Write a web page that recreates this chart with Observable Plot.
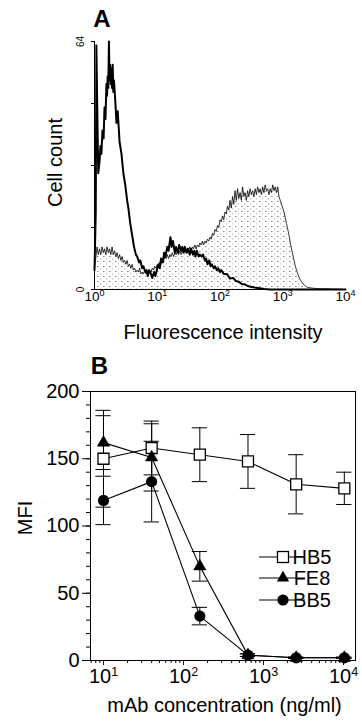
<!DOCTYPE html>
<html><head><meta charset="utf-8">
<script src="https://cdn.jsdelivr.net/npm/d3@7"></script>
<script src="https://cdn.jsdelivr.net/npm/@observablehq/plot@0.6"></script>
<style>
body{margin:0;background:#fff;}
#chart{width:362px;height:728px;position:relative;background:#fff;}
svg{display:block;}
</style></head><body><div id="chart"></div>
<script>
// ---------- Panel A data (log10 fluorescence channel, cell count) ----------
const isoLog = [0.00,0.02,0.03,0.05,0.06,0.08,0.095,0.11,0.127,0.145,0.16,0.175,0.19,0.20,0.21,0.22,0.23,0.24,0.25,0.26,0.27,0.28,0.29,0.30,0.31,0.33,0.35,0.37,0.40,0.43,0.46,0.49,0.52,0.54,0.57,0.60,0.63,0.66,0.68,0.71,0.73,0.76,0.78,0.81,0.83,0.85,0.87,0.90,0.92,0.95,0.97,1.00,1.02,1.04,1.06,1.09,1.11,1.13,1.16,1.18,1.21,1.23,1.25,1.28,1.30,1.33,1.35,1.38,1.40,1.42,1.44,1.47,1.49,1.52,1.54,1.57,1.59,1.61,1.63,1.66,1.68,1.71,1.73,1.76,1.78,1.80,1.83,1.85,1.87,1.90,1.92,1.95,1.97,2.00,2.02,2.06,2.11,2.16,2.21,2.25,2.30,2.35,2.40,2.44,2.49,2.55,2.63,2.71,2.80,3.00,4.00];
const isoCount = [5,20,63,40,30,33,37,35,41,39,47,44,53,50,55,52,64,54,58,53,57,52,58,51,54,49,43,46,38,35,30,27,23,21,17,14,11,9,8.5,7,7.5,5.5,6,4.5,5,3.5,5,4,3,4.5,3.5,5.5,6.5,5.5,8,7,9.5,8.5,11,10,13.5,11,12.5,9.5,11,9.5,11.5,10,11,9.5,11,9.5,10.5,9,10.5,9,10,8.5,10,8.5,9,8.5,9,7.5,8,6.5,7.5,6,6.5,5.5,6,5,5.5,4.5,5,4,4,2.8,3,2.2,2,1.4,1.3,0.9,0.7,0.5,0.3,0.1,0,0,0];
const hb5Log = [0.00,0.02,0.04,0.06,0.08,0.10,0.12,0.14,0.16,0.18,0.20,0.22,0.24,0.26,0.28,0.30,0.32,0.34,0.36,0.38,0.40,0.42,0.44,0.46,0.48,0.50,0.52,0.54,0.56,0.58,0.60,0.62,0.64,0.66,0.68,0.70,0.72,0.74,0.76,0.78,0.80,0.82,0.84,0.86,0.88,0.90,0.92,0.94,0.96,0.98,1.00,1.02,1.04,1.06,1.08,1.10,1.12,1.14,1.16,1.18,1.20,1.22,1.24,1.26,1.28,1.30,1.32,1.34,1.36,1.38,1.40,1.42,1.44,1.46,1.48,1.50,1.52,1.54,1.56,1.58,1.60,1.62,1.64,1.66,1.68,1.70,1.72,1.74,1.76,1.78,1.80,1.82,1.84,1.86,1.88,1.90,1.92,1.94,1.96,1.98,2.00,2.02,2.04,2.06,2.08,2.10,2.12,2.14,2.16,2.18,2.20,2.22,2.24,2.26,2.28,2.30,2.32,2.34,2.36,2.38,2.40,2.42,2.44,2.46,2.48,2.50,2.52,2.54,2.56,2.58,2.60,2.62,2.64,2.66,2.68,2.70,2.72,2.74,2.76,2.78,2.80,2.82,2.84,2.86,2.88,2.90,2.92,2.94,2.96,2.98,3.00,3.02,3.04,3.06,3.08,3.10,3.12,3.14,3.16,3.18,3.20,3.22,3.24,3.26,3.28,3.30,3.32,3.34,3.36,3.38,3.40,3.45,3.50,3.60,3.70,3.80,3.90,4.00];
const hb5Count = [5.5,8,11,9,10.5,9,11,9.5,10.5,9,11,9.5,10.5,9,11,9,10,8.5,9.5,8,9,7.5,8.5,7,7.5,6.5,7.5,6,6.5,5.5,6.5,5,5.5,4.5,5,4.5,5.5,4,4.5,4,5,4,4.5,4,5,4.5,5.5,5,6,5.5,6.5,6,7,6.5,8,7.5,8.5,8,9,8,9,8.5,9.5,8.5,9.5,9,10,9,10,9,10,9.5,10.5,9.5,10.5,10,11,10,11,10.5,11.5,10.5,11.5,11,12,11.5,12.5,11.5,12.5,12,13,12.5,13.5,13,14.5,14,15.5,15,16.5,16,18,17.5,19,18,20,19.5,21.5,20.5,23,21,24,22,25.5,23,26,23.5,25,23,26.5,24,25,23,25.5,24,26,24.5,25.5,24,26,24.5,26.5,25,26,24.5,26.5,25,27,25.5,26,24.5,26,25,27,25.5,26.5,25,26.5,24,23,22,21,20,18.5,17,15.5,14,12,10.5,9,7.5,6,5,4,3.2,2.5,2,1.5,1.2,0.9,0.7,0.5,0.4,0.3,0.2,0.2,0.1,0.1,0];
const aYTicks = [0,16,32,48,64];
const aYLabels = [0,64];
const aXTicks = [1,10,100,1000,10000];

// ---------- Panel B data ----------
const conc = [10,40,160,640,2560,10240];
const seriesNames = ["HB5","FE8","BB5"];
const hb5MFI = [150,158,153,148,131,128];
const hb5Err = [36,20,20,20,22,12];
const fe8MFI = [162,151,70,4,2,2];
const fe8Err = [20,25,11,1,0.5,0.5];
const bb5MFI = [119,133,33,4,2,2];
const bb5Err = [18,30,6.5,1,0.5,0.5];
const bYTicks = [0,50,100,150,200];
const bXTicks = [10,100,1000,10000];

const font = "'Liberation Sans', Arial, Helvetica, sans-serif";
const supFmt = d => "10^" + Math.round(Math.log10(d));

function superscriptTicks(svg, supSize, rise) {
  d3.select(svg).selectAll('g[aria-label="x-axis tick label"] text').each(function() {
    const t = d3.select(this);
    const s = t.text();
    if (!s.includes("^")) return;
    const [b, e] = s.split("^");
    t.text(null);
    t.append("tspan").text(b);
    t.append("tspan").attr("font-size", supSize).attr("dy", -rise).text(e);
  });
}

// ---------- Panel A ----------
const isoData = isoLog.map((l, i) => ({x: 10 ** l, y: isoCount[i]}));
const hbData = hb5Log.map((l, i) => ({x: 10 ** l, y: hb5Count[i]}));

const plotA = Plot.plot({
  width: 362, height: 345,
  marginLeft: 94, marginRight: 17, marginTop: 41, marginBottom: 56,
  style: {fontFamily: font, background: "white", color: "black", overflow: "visible"},
  x: {type: "log", domain: [1, 1e4], label: null},
  y: {domain: [0, 64], label: null},
  marks: [
    Plot.areaY(hbData, {x: "x", y: "y", fill: "url(#stipple)"}),
    Plot.lineY(hbData, {x: "x", y: "y", stroke: "black", strokeWidth: 0.8}),
    Plot.lineY(isoData, {x: "x", y: "y", stroke: "black", strokeWidth: 2}),
    Plot.ruleY([0], {stroke: "black", strokeWidth: 1.2}),
    Plot.ruleX([1], {stroke: "black", strokeWidth: 1}),
    Plot.axisY({ticks: aYTicks, tickSize: 3, tickFormat: () => "", label: null}),
    Plot.text(aYLabels, {x: 1, y: d => d, text: d => String(d), rotate: -90, dx: -14, fontSize: 10, textAnchor: "middle", lineAnchor: "middle"}),
    Plot.axisX({ticks: aXTicks, tickSize: 0, tickPadding: 2, fontSize: 13.5, tickFormat: supFmt, label: null}),
    Plot.text(["Fluorescence intensity"], {text: d => d, frameAnchor: "bottom", dx: 3, dy: 43, fontSize: 20, textAnchor: "middle", lineAnchor: "middle"}),
    Plot.text(["Cell count"], {text: d => d, frameAnchor: "left", rotate: -90, dx: -39, dy: -3, fontSize: 20, textAnchor: "middle", lineAnchor: "middle"}),
    Plot.text(["A"], {text: d => d, frameAnchor: "top-left", dx: 7.5, dy: -22, fontSize: 24, fontWeight: "bold", textAnchor: "middle", lineAnchor: "middle"})
  ]
});
{
  const defs = d3.select(plotA).insert("defs", ":first-child");
  const p = defs.append("pattern").attr("id", "stipple").attr("patternUnits", "userSpaceOnUse").attr("width", 6).attr("height", 5);
  p.append("rect").attr("width", 6).attr("height", 5).attr("fill", "white");
  p.append("rect").attr("x", 1).attr("y", 1).attr("width", 1.6).attr("height", 1).attr("fill", "#8a8a8a");
  p.append("rect").attr("x", 4).attr("y", 3.4).attr("width", 1).attr("height", 1).attr("fill", "#a8a8a8");
}
superscriptTicks(plotA, 9, 5);

// ---------- Panel B ----------
const mfi = {HB5: hb5MFI, FE8: fe8MFI, BB5: bb5MFI};
const errs = {HB5: hb5Err, FE8: fe8Err, BB5: bb5Err};
const pts = seriesNames.flatMap(name => conc.map((c, i) => ({name, x: c, y: mfi[name][i], e: errs[name][i]})));
const capK = 10 ** 0.095;
const minorX = [7,8,9].concat(...[10,100,1000].map(b => [2,3,4,5,6,7,8,9].map(m => m * b)));
const minorY = d3.range(0, 201, 10);
const only = n => pts.filter(d => d.name === n);

const plotB = Plot.plot({
  width: 362, height: 383,
  marginLeft: 90, marginRight: 7, marginTop: 46, marginBottom: 68,
  style: {fontFamily: font, background: "white", color: "black", overflow: "visible"},
  x: {type: "log", domain: [6.88, 14125], label: null},
  y: {domain: [0, 200], label: null},
  marks: [
    Plot.frame({stroke: "black", strokeWidth: 1}),
    Plot.ruleX(pts, {x: "x", y1: d => d.y - d.e, y2: d => d.y + d.e, stroke: "black", strokeWidth: 1}),
    Plot.ruleY(pts, {y: d => d.y - d.e, x1: d => d.x / capK, x2: d => d.x * capK, stroke: "black", strokeWidth: 1}),
    Plot.ruleY(pts, {y: d => d.y + d.e, x1: d => d.x / capK, x2: d => d.x * capK, stroke: "black", strokeWidth: 1}),
    Plot.line(pts, {x: "x", y: "y", z: "name", stroke: "black", strokeWidth: 1.1}),
    Plot.dot(only("HB5"), {x: "x", y: "y", symbol: "square", r: 6.2, fill: "white", stroke: "black", strokeWidth: 1.3}),
    Plot.dot(only("FE8"), {x: "x", y: "y", symbol: "triangle", r: 4.6, fill: "black", stroke: "black", strokeWidth: 0.5}),
    Plot.dot(only("BB5"), {x: "x", y: "y", symbol: "circle", r: 5.6, fill: "black"}),
    Plot.axisY({ticks: minorY, tickSize: 4, tickFormat: () => "", label: null}),
    Plot.axisY({ticks: bYTicks, tickSize: 8, tickPadding: 3, fontSize: 20, label: null}),
    Plot.axisX({ticks: minorX, tickSize: 3, tickFormat: () => "", label: null}),
    Plot.axisX({ticks: bXTicks, tickSize: 5, tickPadding: 3, fontSize: 20, tickFormat: supFmt, label: null}),
    Plot.text(["mAb concentration (ng/ml)"], {text: d => d, frameAnchor: "bottom", dx: 1.5, dy: 45, fontSize: 20, textAnchor: "middle", lineAnchor: "middle"}),
    Plot.text(["MFI"], {text: d => d, frameAnchor: "left", rotate: -90, dx: -65, dy: -8, fontSize: 20, textAnchor: "middle", lineAnchor: "middle"}),
    Plot.text(["B"], {text: d => d, frameAnchor: "top-left", dx: 9, dy: -25, fontSize: 24, fontWeight: "bold", textAnchor: "middle", lineAnchor: "middle"})
  ]
});
superscriptTicks(plotB, 12.5, 7);

// legend (inside panel B, pixel layout)
{
  const g = d3.select(plotB).append("g").attr("aria-label", "legend").attr("font-family", font).attr("font-size", 20);
  const rows = [212, 233, 255];
  seriesNames.forEach((name, i) => {
    const y = rows[i], cx = 283;
    g.append("line").attr("x1", 259).attr("x2", 305).attr("y1", y).attr("y2", y).attr("stroke", "black").attr("stroke-width", 1.1);
    if (name === "HB5") g.append("rect").attr("x", cx - 5.5).attr("y", y - 5.5).attr("width", 11).attr("height", 11).attr("fill", "white").attr("stroke", "black").attr("stroke-width", 1.3);
    if (name === "FE8") g.append("path").attr("d", d3.symbol(d3.symbolTriangle, Math.PI * 4.6 * 4.6)()).attr("transform", `translate(${cx},${y})`).attr("fill", "black");
    if (name === "BB5") g.append("circle").attr("cx", cx).attr("cy", y).attr("r", 5.6).attr("fill", "black");
    g.append("text").attr("x", 312).attr("y", y).attr("dy", "0.35em").text(name);
  });
}

const root = document.getElementById("chart");
root.appendChild(plotA);
root.appendChild(plotB);
</script></body></html>
